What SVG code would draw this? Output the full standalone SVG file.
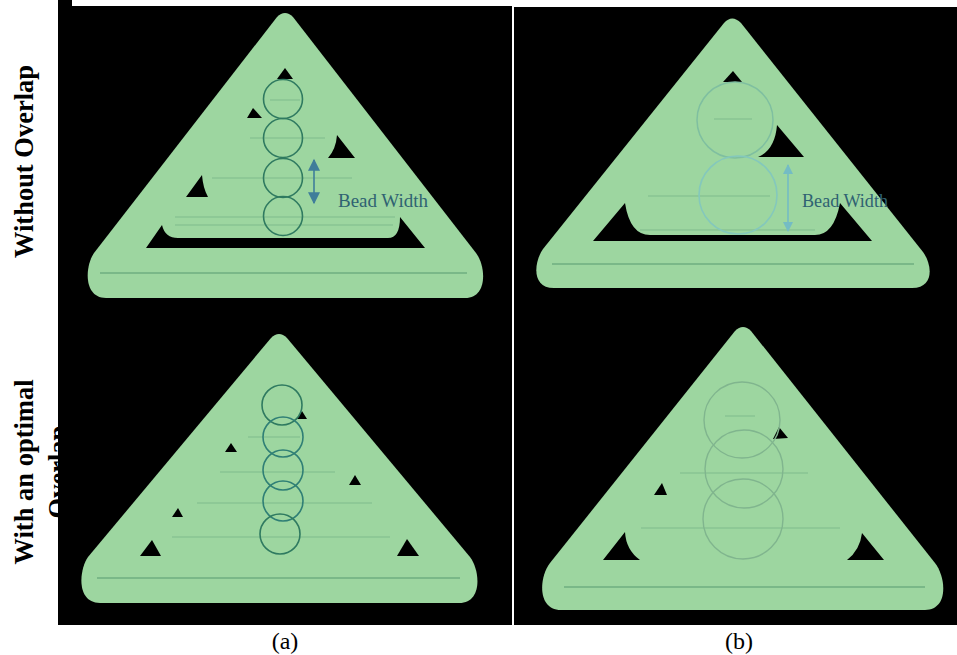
<svg xmlns="http://www.w3.org/2000/svg" width="957" height="655" viewBox="0 0 957 655">
<defs>
<marker id="h1" viewBox="0 0 10 10" refX="9" refY="5" markerWidth="15" markerHeight="12" markerUnits="userSpaceOnUse" orient="auto-start-reverse"><path d="M0,0 L10,5 L0,10 Z" fill="#3f7d9a"/></marker>
<marker id="h2" viewBox="0 0 10 10" refX="9" refY="5" markerWidth="11" markerHeight="10" markerUnits="userSpaceOnUse" orient="auto-start-reverse"><path d="M0,0 L10,5 L0,10 Z" fill="#74bcc4"/></marker>
</defs>
<style>
.panel{fill:#000}
.body{fill:#9dd6a0}
.hole{fill:#000}
.ln{stroke:#7fbb8c;stroke-width:1;fill:none}
.lnd{stroke:#6fae80;stroke-width:1.5;fill:none}
.c1{fill:none;stroke:#2f7a60;stroke-width:1.6}
.c2{fill:none;stroke:#7fbfa0;stroke-width:1.5}
.c3{fill:none;stroke:#84c8bc;stroke-width:1.6}
.c4{fill:none;stroke:#80b58e;stroke-width:1.4}
.c5{fill:none;stroke:#2f7f75;stroke-width:1.6}
.lab{font-family:"Liberation Serif",serif;font-size:18px;fill:#2f6272}
.side{font-family:"Liberation Serif",serif;font-weight:bold;font-size:26.5px;fill:#000;text-anchor:middle}
.cap{font-family:"Liberation Serif",serif;font-size:24px;fill:#000;text-anchor:middle}
</style>
<rect width="957" height="655" fill="#fff"/>
<text class="side" transform="translate(33,161.5) rotate(-90)">Without Overlap</text>
<text class="side" transform="translate(33,472) rotate(-90)">With an optimal</text>
<text class="side" transform="translate(67,472) rotate(-90)">Overlap</text>
<path class="panel" d="M58,0 H72 V6 H512 V625 H58 Z"/>
<rect class="panel" x="514" y="7" width="443" height="618"/>

<g id="panel-a-top">
<path class="body" d="M277,17 Q285,9 293,17 L476,253 C486,266 488,298 465,298 H106 C83,298 85,266 94,253 Z"/>
<path class="hole" d="M285,68 L277,79 H293 Z"/>
<path class="hole" d="M253,108 L247,118 H262 Z"/>
<path class="hole" d="M337,135 Q336,149 328,158 H355 Z"/>
<path class="hole" d="M202,175 L186,197 H208 Q203,188 202,175 Z"/>
<path class="hole" d="M162,225 L146,248 H425 L400,217 Q400,238 388,238 H178 Q165,238 162,225 Z"/>
<path class="lnd" d="M100,273 H467"/>
<path class="ln" d="M212,178 H352 M175,217 H395 M250,138 H325 M270,100 H300 M175,225 H393"/>
<circle class="c1" cx="283" cy="99" r="19.5"/>
<circle class="c1" cx="283" cy="138" r="19.5"/>
<circle class="c1" cx="283" cy="178" r="19.5"/>
<circle class="c1" cx="283" cy="216" r="19.5"/>
<text class="lab" x="338" y="207" textLength="90" lengthAdjust="spacingAndGlyphs">Bead Width</text>
</g>

<g id="panel-b-top">
<path class="body" d="M724,23 Q732,14 741,23 L923,252 C932,264 935,288 912,288 H554 C531,288 534,262 543,249 Z"/>
<path class="hole" d="M733,71 L723,82 H742 Z"/>
<path class="hole" d="M777,125 Q775,150 758,157 H804 Z"/>
<path class="hole" d="M625,203 L593,241 H872 L840,203 Q834,235 815,235 H650 Q630,235 625,203 Z"/>
<path class="lnd" d="M552,264 H914"/>
<path class="ln" d="M648,196 H770 M714,119 H752 M640,230 H815"/>
<circle class="c2" cx="735" cy="120" r="38"/>
<circle class="c3" cx="738" cy="195" r="39"/>
<text class="lab" x="802" y="207" textLength="86" lengthAdjust="spacingAndGlyphs">Bead Width</text>
</g>

<g id="panel-a-bottom">
<path class="body" d="M271,338 Q279,330 287,338 L470,557 C480,570 483,603 459,603 H100 C76,603 79,570 88,557 Z"/>
<path class="hole" d="M302,411 L297,419 H307 Z"/>
<path class="hole" d="M231,443 L225,452 H237 Z"/>
<path class="hole" d="M355,475 L349,485 H361 Z"/>
<path class="hole" d="M178,508 L172,517 H183 Z"/>
<path class="hole" d="M152,540 L140,556 H161 Z"/>
<path class="hole" d="M407,539 L397,556 H419 Z"/>
<path class="lnd" d="M97,578 H460"/>
<path class="ln" d="M172,537 H390 M197,503 H372 M220,472 H335 M248,437 H300"/>
<circle class="c1" cx="282" cy="405" r="20"/>
<circle class="c5" cx="283" cy="437" r="20"/>
<circle class="c5" cx="283" cy="470" r="20"/>
<circle class="c5" cx="283" cy="501" r="20"/>
<circle class="c1" cx="280" cy="534" r="20"/>
</g>

<g id="panel-b-bottom">
<path class="body" d="M735,331 Q743,323 751,331 L935,563 C946,577 949,610 925,610 H561 C537,610 539,577 550,563 Z"/>
<path class="hole" d="M779,427 L773,439 L788,438 Z"/>
<path class="hole" d="M662,483 L654,495 H667 Z"/>
<path class="hole" d="M625,532 L603,560 H640 Q626,550 625,532 Z"/>
<path class="hole" d="M862,533 Q860,550 847,560 H884 Z"/>
<path class="lnd" d="M564,587 H925"/>
<path class="ln" d="M641,528 H840 M680,473 H808 M725,416 H755"/>
<circle class="c4" cx="742" cy="420" r="38"/>
<circle class="c4" cx="744" cy="469" r="39"/>
<circle class="c4" cx="743" cy="519" r="40"/>
</g>

<g id="connectors">
<line x1="314" y1="160" x2="314" y2="203" stroke="#3f7d9a" stroke-width="1.6" marker-start="url(#h1)" marker-end="url(#h1)"/>
<line x1="788" y1="165" x2="788" y2="231" stroke="#74bcc4" stroke-width="1.6" marker-start="url(#h2)" marker-end="url(#h2)"/>
</g>

<text class="cap" x="285" y="649">(a)</text>
<text class="cap" x="739" y="649">(b)</text>
</svg>
